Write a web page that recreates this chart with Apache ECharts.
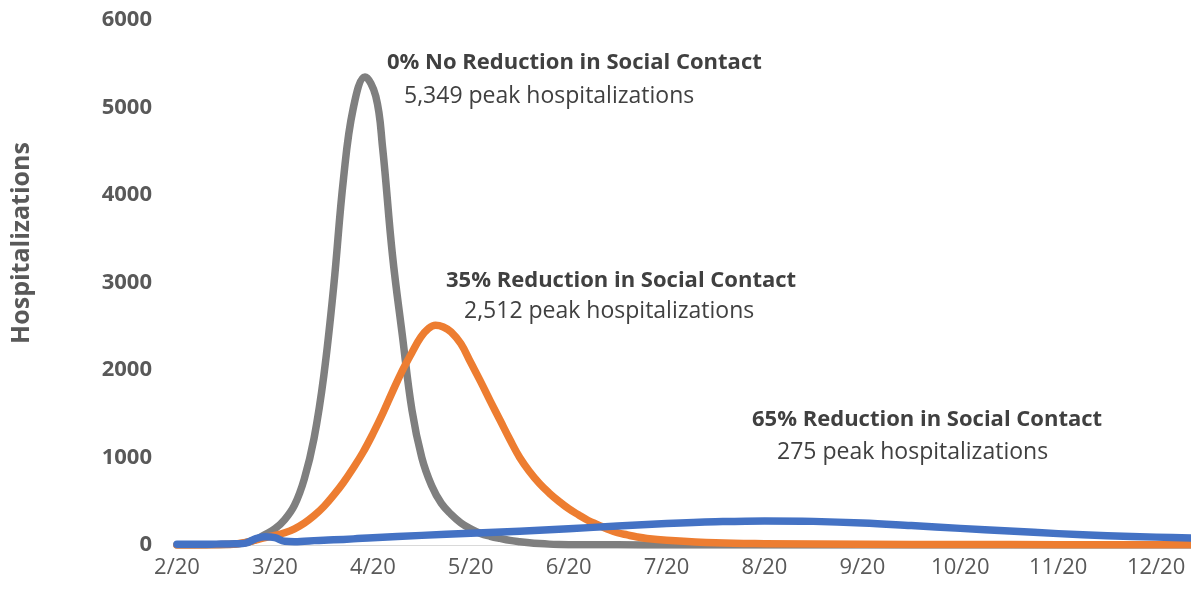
<!DOCTYPE html>
<html><head><meta charset="utf-8">
<script src="https://cdn.jsdelivr.net/npm/echarts@6/dist/echarts.min.js"></script>
<style>html,body{margin:0;padding:0;background:#fff}#c{width:1191px;height:594px}</style>
</head><body><div id="c"></div>
<script>
// x positions are in months since 2/20 (0 = 2/20, 1 = 3/20, ...)
const monthLabels = ['2/20','3/20','4/20','5/20','6/20','7/20','8/20','9/20','10/20','11/20','12/20'];
const yTicks = [0, 1000, 2000, 3000, 4000, 5000, 6000];

const grayMonths = [0, 0.1, 0.2, 0.3, 0.4, 0.5, 0.6, 0.7, 0.8, 0.9, 1.0, 1.1, 1.2, 1.3, 1.4, 1.5, 1.6, 1.7, 1.8, 1.92, 2.03, 2.1, 2.2, 2.3, 2.4, 2.5, 2.6, 2.7, 2.8, 2.9, 3.0, 3.1, 3.2, 3.3, 3.4, 3.5, 3.6, 3.7, 3.8, 3.9, 4.0, 4.5, 5.0, 5.5, 6.0, 7.0, 8.0, 9.0, 10.0, 10.5];
const grayValues = [0, 0, 0, 1, 3, 5, 12, 28, 60, 120, 185, 290, 455, 755, 1220, 1940, 2950, 4180, 4990, 5349, 5130, 4540, 3320, 2410, 1540, 1000, 680, 475, 350, 252, 185, 132, 100, 75, 53, 38, 26, 17, 10, 6, 4, 2, 1, 0, 0, 0, 0, 0, 0, 0];

const orangeMonths = [0, 0.5, 0.6, 0.7, 0.8, 0.9, 1.0, 1.1, 1.2, 1.3, 1.4, 1.5, 1.6, 1.7, 1.8, 1.9, 2.0, 2.1, 2.2, 2.3, 2.4, 2.49, 2.57, 2.64, 2.72, 2.8, 2.9, 3.0, 3.1, 3.2, 3.3, 3.4, 3.5, 3.6, 3.7, 3.8, 3.9, 4.0, 4.1, 4.2, 4.3, 4.4, 4.5, 4.6, 4.7, 4.8, 5.0, 5.5, 6.0, 7.0, 8.0, 9.0, 10.5];
const orangeValues = [0, 5, 12, 28, 55, 85, 110, 140, 185, 250, 335, 440, 570, 715, 880, 1060, 1270, 1500, 1750, 1990, 2200, 2375, 2475, 2512, 2492, 2435, 2300, 2085, 1870, 1645, 1425, 1205, 1000, 840, 705, 595, 500, 415, 345, 280, 230, 180, 140, 115, 92, 75, 55, 25, 15, 8, 5, 4, 3];

const blueMonths = [0, 0.1, 0.2, 0.3, 0.4, 0.5, 0.6, 0.7, 0.8, 0.9, 1.0, 1.1, 1.2, 1.3, 1.4, 1.5, 1.6, 1.8, 2.0, 2.5, 3.0, 3.5, 4.0, 4.5, 5.0, 5.5, 6.0, 6.5, 7.0, 7.5, 8.0, 8.5, 9.0, 9.5, 10.0, 10.5];
const blueValues = [8, 8, 8, 9, 10, 11, 13, 22, 70, 95, 85, 42, 38, 44, 50, 55, 59, 70, 84, 110, 135, 158, 185, 218, 245, 265, 275, 270, 252, 222, 190, 160, 130, 107, 90, 75];

const annotations = [
  ['0% No Reduction in Social Contact', true, 387, 63],
  ['5,349 peak hospitalizations', false, 404, 96],
  ['35% Reduction in Social Contact', true, 446, 281],
  ['2,512 peak hospitalizations', false, 464, 311],
  ['65% Reduction in Social Contact', true, 752, 420],
  ['275 peak hospitalizations', false, 777, 452]
];

const FONT = 'Open Sans';
function zip(xs, ys) { return xs.map((x, i) => [x, ys[i]]); }

const chart = echarts.init(document.getElementById('c'), null, {renderer: 'canvas'});
const graphics = annotations.map(a => ({
  type: 'text', x: a[2], y: a[3],
  style: { text: a[0], fill: '#404040', align: 'left', verticalAlign: 'middle',
           font: (a[1] ? 'bold 22px "' : '23px "') + FONT + '"' }
}));
graphics.push({
  type: 'text', x: 22, y: 243, rotation: Math.PI / 2,
  style: { text: 'Hospitalizations', fill: '#595959', font: 'bold 25px "' + FONT + '"', align: 'center', verticalAlign: 'middle' }
});

const lineSeries = (name, color, xs, ys) => ({
  type: 'line', name, data: zip(xs, ys), showSymbol: false, smooth: 0.4,
  lineStyle: { color, width: 7.5, cap: 'round', join: 'round' }, itemStyle: { color }
});

chart.setOption({
  animation: false,
  backgroundColor: '#fff',
  grid: { left: 177, right: -63, top: 20, bottom: 49, outerBoundsMode: 'none', containLabel: false },
  xAxis: {
    type: 'value', min: 0, max: 11, interval: 1,
    axisLine: { show: true, lineStyle: { color: '#d9d9d9', width: 1 } },
    axisTick: { show: false }, splitLine: { show: false },
    axisLabel: { formatter: v => monthLabels[v] || '', color: '#595959', fontFamily: FONT, fontSize: 22, margin: 12 }
  },
  yAxis: {
    type: 'value', min: yTicks[0], max: yTicks[yTicks.length - 1], interval: yTicks[1] - yTicks[0],
    axisLine: { show: false }, axisTick: { show: false }, splitLine: { show: false },
    axisLabel: { formatter: v => String(v), color: '#595959', fontFamily: FONT, fontWeight: 'bold', fontSize: 22, margin: 25 }
  },
  graphic: graphics,
  series: [
    lineSeries('0% No Reduction in Social Contact', '#7f7f7f', grayMonths, grayValues),
    lineSeries('35% Reduction in Social Contact', '#ed7d31', orangeMonths, orangeValues),
    lineSeries('65% Reduction in Social Contact', '#4472c4', blueMonths, blueValues)
  ]
});
</script></body></html>
